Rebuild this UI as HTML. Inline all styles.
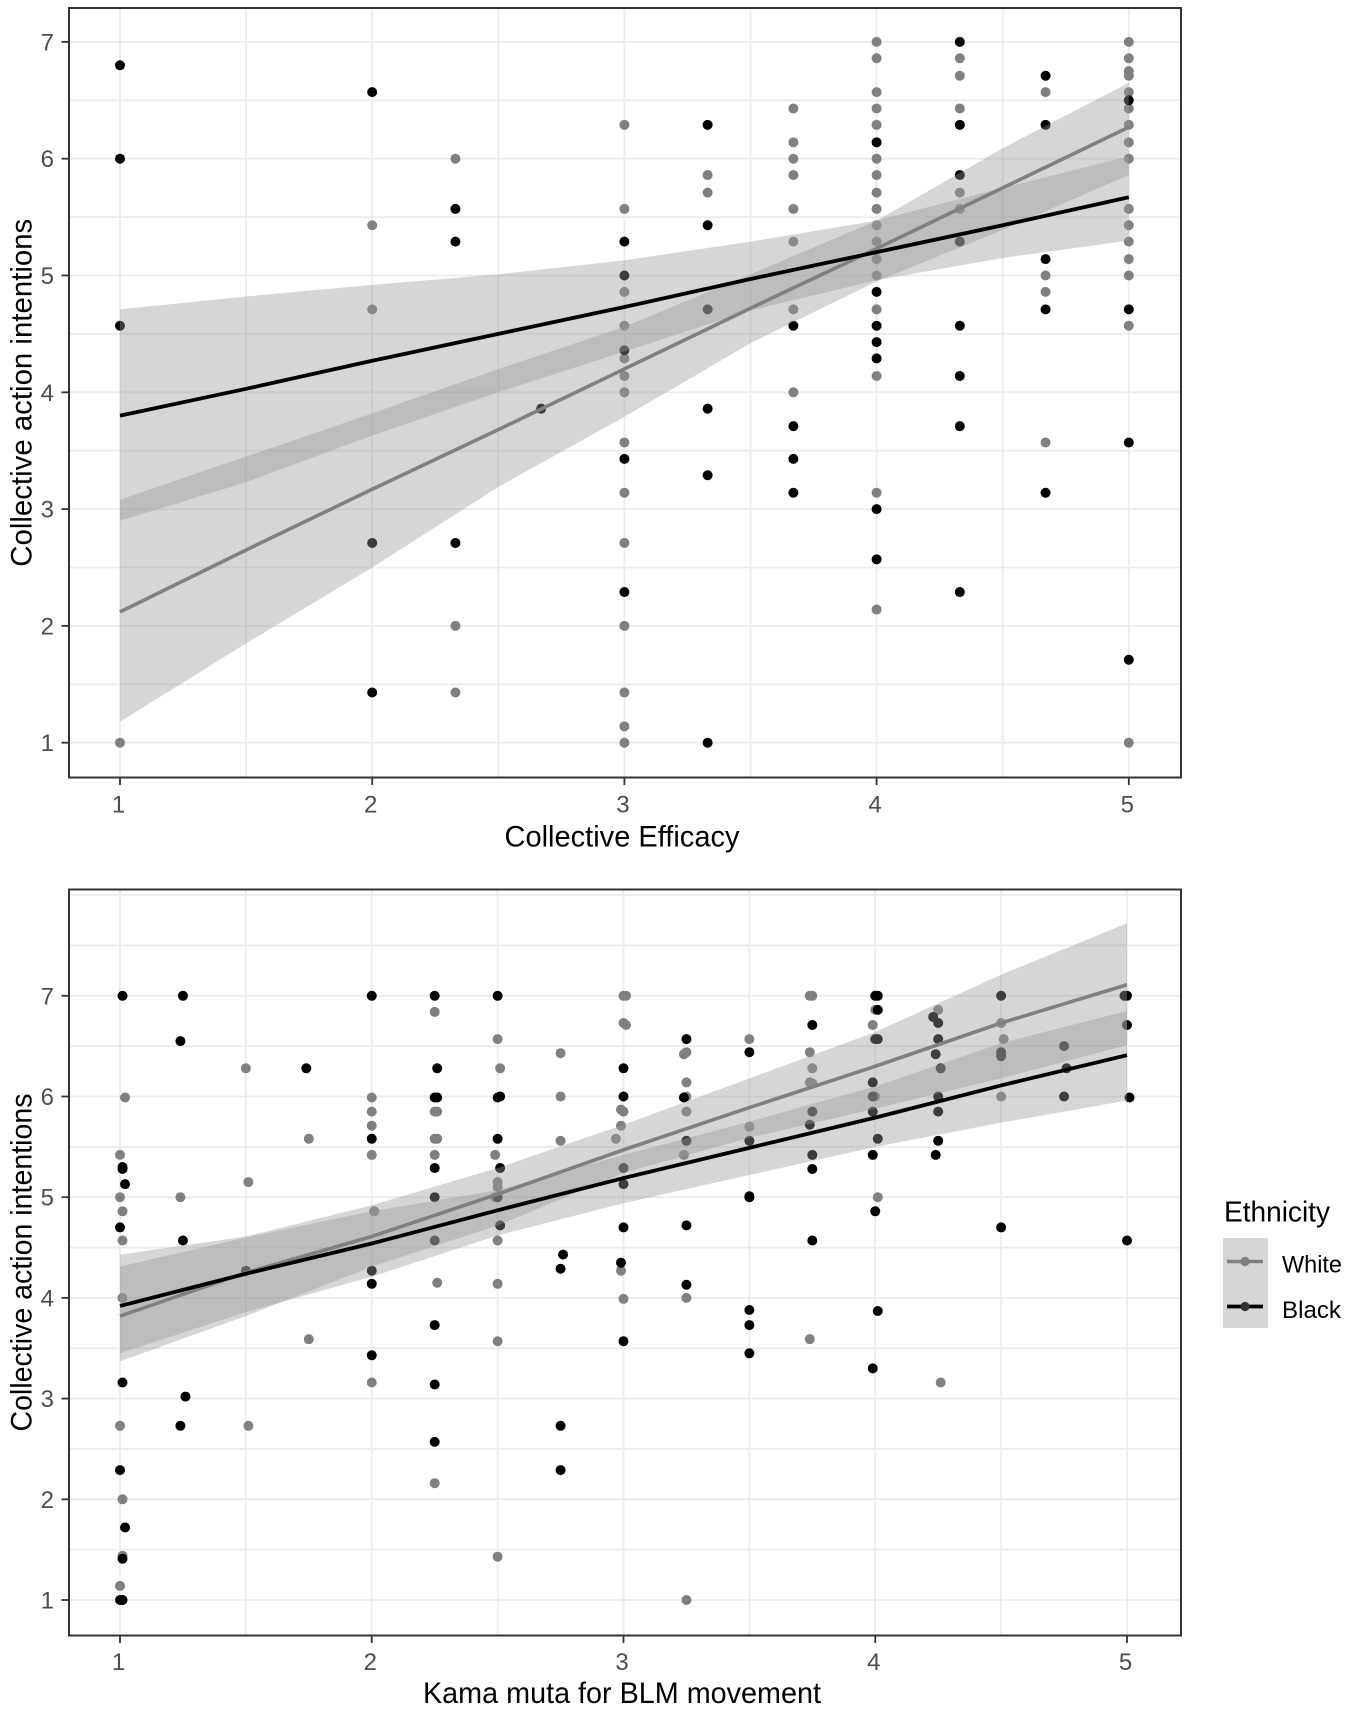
<!DOCTYPE html>
<html lang="en">
<head>
<meta charset="utf-8">
<title>Collective action intentions by efficacy and kama muta</title>
<style>
  html, body { margin: 0; padding: 0; background: #fff; }
  svg { display: block; font-family: "Liberation Sans", sans-serif; }
</style>
</head>
<body>
<svg id="chart" xmlns="http://www.w3.org/2000/svg" width="1350" height="1710" viewBox="0 0 1350 1710">
  <rect width="1350" height="1710" fill="#fff"/>
  <g id="panel-top"></g>
  <g id="panel-bottom"></g>
  <g>
    <text x="1224" y="1221.5" font-size="29" textLength="106" lengthAdjust="spacingAndGlyphs" fill="#000">Ethnicity</text>
    <rect x="1223" y="1238" width="45" height="45" fill="#d6d6d6"/>
    <rect x="1223" y="1283" width="45" height="45" fill="#d6d6d6"/>
    <line x1="1227" x2="1263" y1="1261.5" y2="1261.5" stroke="#808080" stroke-width="3.6"/>
    <circle cx="1245" cy="1261.5" r="4.6" fill="#808080"/>
    <line x1="1227" x2="1263" y1="1306.5" y2="1306.5" stroke="#000" stroke-width="3.8"/>
    <circle cx="1245" cy="1306.5" r="4.6" fill="#333"/>
    <text x="1282" y="1272.5" font-size="24" textLength="60" lengthAdjust="spacingAndGlyphs" fill="#000">White</text>
    <text x="1282" y="1318" font-size="24" textLength="59" lengthAdjust="spacingAndGlyphs" fill="#000">Black</text>
  </g>
</svg>
<script>
const xTickLabels = [1, 2, 3, 4, 5];
const xMinorTicks = [1.5, 2.5, 3.5, 4.5];
const topYTickLabels = [1, 2, 3, 4, 5, 6, 7];
const topYMinorTicks = [1.5, 2.5, 3.5, 4.5, 5.5, 6.5];
const bottomYTickLabels = [1, 2, 3, 4, 5, 6, 7];
const bottomYMinorTicks = [1.5, 2.5, 3.5, 4.5, 5.5, 6.5, 7.5, 8];

const bandX = [1, 1.5, 2, 2.5, 3, 3.5, 4, 4.5, 5];

const efficacyWhiteFit = [2.12, 2.65, 3.17, 3.68, 4.2, 4.72, 5.23, 5.75, 6.27];
const efficacyWhiteLow = [1.18, 1.85, 2.5, 3.19, 3.79, 4.42, 4.95, 5.39, 5.86];
const efficacyWhiteHigh = [3.08, 3.45, 3.82, 4.2, 4.56, 5.01, 5.47, 6.09, 6.65];
const efficacyBlackFit = [3.8, 4.03, 4.27, 4.5, 4.73, 4.97, 5.2, 5.43, 5.67];
const efficacyBlackLow = [2.9, 3.23, 3.63, 4.0, 4.35, 4.7, 4.96, 5.15, 5.3];
const efficacyBlackHigh = [4.71, 4.82, 4.92, 5.01, 5.13, 5.29, 5.47, 5.75, 6.02];

const efficacyWhitePoints = [
  [1,1],[2,5.43],[2,4.71],[2.33,6],[2.33,2],[2.33,1.43],
  [3,6.29],[3,5.57],[3,4.86],[3,4.57],[3,4.29],[3,4.14],[3,4],[3,3.57],[3,3.14],[3,2.71],[3,2],[3,1.43],[3,1.14],[3,1],
  [3.33,5.86],[3.33,5.71],
  [3.67,6.43],[3.67,6.14],[3.67,6],[3.67,5.86],[3.67,5.57],[3.67,5.29],[3.67,4.71],[3.67,4],
  [4,7],[4,6.86],[4,6.57],[4,6.43],[4,6.29],[4,6],[4,5.86],[4,5.71],[4,5.57],[4,5.43],[4,5.29],[4,5.14],[4,5],[4,4.71],[4,4.14],[4,3.14],[4,2.14],
  [4.33,6.86],[4.33,6.71],[4.33,6.43],[4.33,5.71],[4.33,5.57],
  [4.67,6.57],[4.67,5],[4.67,4.86],[4.67,3.57],
  [5,7],[5,6.86],[5,6.75],[5,6.71],[5,6.57],[5,6.43],[5,6.29],[5,6.14],[5,6],[5,5.57],[5,5.43],[5,5.29],[5,5.14],[5,5],[5,4.57],[5,1]
];
const efficacyBlackPoints = [
  [1,6.8],[1,6],[1,4.57],[2,6.57],[2,2.71],[2,1.43],[2.33,5.57],[2.33,5.29],[2.33,2.71],[2.67,3.86],
  [3,5.29],[3,5],[3,4.36],[3,3.43],[3,2.29],
  [3.33,6.29],[3.33,5.43],[3.33,4.71],[3.33,3.86],[3.33,3.29],[3.33,1],
  [3.67,4.57],[3.67,3.71],[3.67,3.43],[3.67,3.14],
  [4,6.14],[4,4.86],[4,4.57],[4,4.43],[4,4.29],[4,3],[4,2.57],
  [4.33,7],[4.33,6.29],[4.33,5.86],[4.33,5.29],[4.33,4.57],[4.33,4.14],[4.33,3.71],[4.33,2.29],
  [4.67,6.71],[4.67,6.29],[4.67,5.14],[4.67,4.71],[4.67,3.14],
  [5,6.5],[5,4.71],[5,3.57],[5,1.71]
];

const kamaWhiteFit = [3.82, 4.25, 4.61, 5.03, 5.47, 5.89, 6.3, 6.73, 7.11];
const kamaWhiteLow = [3.37, 3.82, 4.31, 4.72, 5.24, 5.59, 5.88, 6.18, 6.51];
const kamaWhiteHigh = [4.43, 4.61, 4.92, 5.29, 5.72, 6.18, 6.64, 7.21, 7.72];
const kamaBlackFit = [3.92, 4.24, 4.54, 4.87, 5.19, 5.49, 5.79, 6.11, 6.41];
const kamaBlackLow = [3.45, 3.86, 4.21, 4.62, 4.94, 5.22, 5.5, 5.74, 5.96];
const kamaBlackHigh = [4.31, 4.6, 4.86, 5.07, 5.42, 5.75, 6.1, 6.53, 6.85];

const kamaWhitePoints = [
  [2.25,6.84],[2.5,6.57],[2.75,6.43],[1.5,6.28],[2.51,6.28],[1.02,5.99],[2,5.99],[2.75,6],[2,5.85],[2.25,5.85],[2.26,5.85],
  [2,5.71],[1.75,5.58],[2.25,5.58],[2.26,5.58],[2.75,5.56],[1,5.42],[2,5.42],[2.25,5.42],[2.49,5.42],
  [2.99,5.71],[2.99,5.87],[3,5.85],[2.97,5.58],[3,7],[3.01,7],[3,6.73],[3.01,6.71],[1.51,5.15],[1.24,5],[1,5],[1.01,4.86],[2.01,4.86],
  [2.5,5.15],[2.5,5.1],[2.49,5],[1.01,4.57],[2.5,4.57],[2.26,4.15],[2.5,4.14],[2.99,4.27],[1.01,4],[3,3.99],
  [1.75,3.59],[2.5,3.57],[2,3.16],[1,2.73],[1.51,2.73],[2.25,2.16],[1.01,2],[1.01,1.44],[2.5,1.43],[1,1.14],[1.01,1],
  [3.24,6.42],[3.25,6.44],[3.25,6.14],[3.25,6],[3.25,5.85],[3.24,5.42],[3.25,4],[3.25,1],
  [3.74,3.59],[4.26,3.16],[3.5,6.57],[3.5,5.7],[3.74,7],[3.75,7],[3.74,6.44],[3.75,6.28],[3.74,6.14],[3.75,6.13],
  [4,6.86],[3.99,6.71],[4,6],[4.01,5],[4.25,6.86],[4.5,6.73],[4.51,6.57],[4.5,6],[4.26,6.28]
];
const kamaBlackPoints = [
  [1.01,7],[1.25,7],[1.24,6.55],[1.74,6.28],[2,7],[2.25,7],[2.5,7],[2.26,6.28],[2.5,5.99],[2.51,6],[2.25,5.99],[2.26,5.99],
  [3,6.28],[3,6],[2,5.58],[2.5,5.58],[1.01,5.28],[1.01,5.3],[2.25,5.29],[2.51,5.29],[1.02,5.13],[3,5.13],[2.5,5],[2.25,5],
  [1,4.7],[1.25,4.57],[2.51,4.72],[2.25,4.57],[3,4.7],[2.76,4.43],[2.75,4.29],[2.99,4.35],[2,4.27],[2,4.14],[1.5,4.27],[3,5.29],
  [2.25,3.73],[2,3.43],[3,3.57],[1.01,3.16],[2.25,3.14],[1.26,3.02],[1.24,2.73],[2.75,2.73],[2.25,2.57],[1,2.29],[2.75,2.29],
  [1.02,1.72],[1.01,1.41],[1,1],[1.01,1],
  [3.25,6.57],[3.24,5.99],[3.25,5.56],[3.25,4.72],[3.25,4.13],[3.5,3.88],[3.5,3.73],[3.5,3.45],[4.01,3.87],[3.99,3.3],
  [3.5,6.44],[3.5,5.56],[3.5,5.01],[3.5,5],[3.75,6.71],[3.75,5.85],[3.74,5.72],[3.75,5.42],[3.75,5.28],[3.75,4.57],
  [4,7],[4.01,7],[4.01,6.86],[4,6.57],[4.01,6.57],[3.99,6.14],[3.99,6],[3.99,5.85],[4.01,5.58],[3.99,5.42],[4,4.86],
  [4.23,6.79],[4.25,6.73],[4.25,6.57],[4.24,6.42],[4.26,6.28],[4.25,6],[4.25,5.85],[4.25,5.56],[4.24,5.42],
  [4.5,7],[4.5,6.44],[4.5,6.4],[4.5,4.7],[4.75,6.5],[4.76,6.28],[4.75,6],[4.99,7],[5,7],[5,6.71],[5.01,5.99],[5,4.57]
];

const SVGNS = 'http://www.w3.org/2000/svg';

function make(parent, tag, attrs) {
  const el = document.createElementNS(SVGNS, tag);
  for (const k in attrs) el.setAttribute(k, attrs[k]);
  parent.appendChild(el);
  return el;
}

function drawPanel(cfg) {
  const root = document.getElementById(cfg.rootId);
  const sx = v => cfg.x1 + (v - 1) * cfg.xUnit;
  const sy = v => cfg.y1 - (v - 1) * cfg.yUnit;

  const grid = make(root, 'g', {});
  
  
  cfg.yMinor.concat(cfg.yMajor).forEach(v => {
    const el = make(grid, 'line', { x1: cfg.left, x2: cfg.right, y1: sy(v), y2: sy(v), stroke: '#ebebeb', 'stroke-width': 1.8 });
    
    
  });
  xMinorTicks.concat(xTickLabels).forEach(v => {
    const el = make(grid, 'line', { x1: sx(v), x2: sx(v), y1: cfg.top, y2: cfg.bottom, stroke: '#ebebeb', 'stroke-width': 1.8 });
    
    
  });

  cfg.whitePoints.forEach(p => {
    const el = make(root, 'circle', { cx: sx(p[0]), cy: sy(p[1]), r: 5, fill: '#808080' });
    
    
  });
  cfg.blackPoints.forEach(p => {
    const el = make(root, 'circle', { cx: sx(p[0]), cy: sy(p[1]), r: 5, fill: '#000' });
    
    
  });

  const ribbonPoints = (lo, hi) =>
    bandX.map((x, i) => sx(x) + ',' + sy(hi[i])).concat(
      bandX.map((x, i) => sx(x) + ',' + sy(lo[i])).reverse()).join(' ');
  const fitPoints = f => bandX.map((x, i) => sx(x) + ',' + sy(f[i])).join(' ');

  const whiteBand = make(root, 'polygon', { points: ribbonPoints(cfg.whiteLow, cfg.whiteHigh), fill: '#999', 'fill-opacity': 0.4 });
  
  
  const blackBand = make(root, 'polygon', { points: ribbonPoints(cfg.blackLow, cfg.blackHigh), fill: '#999', 'fill-opacity': 0.4 });
  
  

  const whiteLine = make(root, 'polyline', { points: fitPoints(cfg.whiteFit), fill: 'none', stroke: '#808080', 'stroke-width': 3.6 });
  
  
  const blackLine = make(root, 'polyline', { points: fitPoints(cfg.blackFit), fill: 'none', stroke: '#000', 'stroke-width': 3.8 });
  
  

  const border = make(root, 'rect', { x: cfg.left, y: cfg.top, width: cfg.right - cfg.left, height: cfg.bottom - cfg.top, fill: 'none', stroke: '#333', 'stroke-width': 2 });
  
  

  xTickLabels.forEach(v => {
    const t = make(root, 'line', { x1: sx(v), x2: sx(v), y1: cfg.bottom, y2: cfg.bottom + 7.5, stroke: '#333', 'stroke-width': 1.8 });
    
    
    const l = make(root, 'text', { x: sx(v) - 1.5, y: cfg.xLabelBase, 'font-size': 24, 'text-anchor': 'middle', fill: '#4d4d4d' });
    l.textContent = v;
    
    
  });
  cfg.yMajor.forEach(v => {
    const t = make(root, 'line', { x1: cfg.left - 7.5, x2: cfg.left, y1: sy(v), y2: sy(v), stroke: '#333', 'stroke-width': 1.8 });
    
    
    const l = make(root, 'text', { x: 54, y: sy(v) + 8.5, 'font-size': 24, 'text-anchor': 'end', fill: '#4d4d4d' });
    l.textContent = v;
    
    
  });

  const xTitle = make(root, 'text', { x: cfg.xTitleX, y: cfg.xTitleBase, 'font-size': 30, 'text-anchor': 'middle', textLength: cfg.xTitleLen, lengthAdjust: 'spacingAndGlyphs', fill: '#000' });
  xTitle.textContent = cfg.xTitle;
  
  

  const cy = (cfg.top + cfg.bottom) / 2;
  const yTitle = make(root, 'text', { x: 0, y: 0, 'font-size': 29.5, 'text-anchor': 'middle', textLength: cfg.yTitleLen, lengthAdjust: 'spacingAndGlyphs', fill: '#000', transform: 'translate(31.5,' + cy + ') rotate(-90)' });
  yTitle.textContent = 'Collective action intentions';
  
  
}

drawPanel({
  rootId: 'panel-top', left: 69, right: 1181, top: 8, bottom: 777.5,
  x1: 120, xUnit: 252.2, y1: 742.7, yUnit: 116.8,
  yMajor: topYTickLabels, yMinor: topYMinorTicks,
  whitePoints: efficacyWhitePoints, blackPoints: efficacyBlackPoints,
  whiteFit: efficacyWhiteFit, whiteLow: efficacyWhiteLow, whiteHigh: efficacyWhiteHigh,
  blackFit: efficacyBlackFit, blackLow: efficacyBlackLow, blackHigh: efficacyBlackHigh,
  xLabelBase: 812.5, xTitle: 'Collective Efficacy', xTitleX: 622, xTitleBase: 846.5, xTitleLen: 235, yTitleLen: 348
});
drawPanel({
  rootId: 'panel-bottom', left: 69, right: 1181, top: 889.5, bottom: 1635.5,
  x1: 120, xUnit: 251.75, y1: 1600, yUnit: 100.7,
  yMajor: bottomYTickLabels, yMinor: bottomYMinorTicks,
  whitePoints: kamaWhitePoints, blackPoints: kamaBlackPoints,
  whiteFit: kamaWhiteFit, whiteLow: kamaWhiteLow, whiteHigh: kamaWhiteHigh,
  blackFit: kamaBlackFit, blackLow: kamaBlackLow, blackHigh: kamaBlackHigh,
  xLabelBase: 1670, xTitle: 'Kama muta for BLM movement', xTitleX: 622, xTitleBase: 1703, xTitleLen: 398, yTitleLen: 338
});
</script>
</body>
</html>
